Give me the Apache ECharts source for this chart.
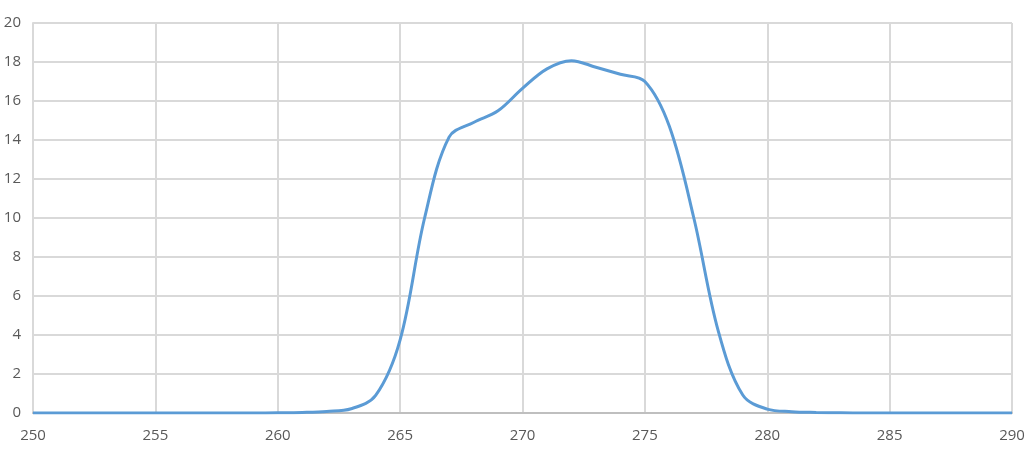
<!DOCTYPE html>
<html>
<head>
    <meta charset="utf-8">
    <title>Spectrum</title>
    <script src="https://cdn.jsdelivr.net/npm/echarts@6/dist/echarts.min.js"></script>
    <style>
        html, body { margin: 0; padding: 0; background: #fff; }
    </style>
</head>
<body>
<div id="main" style="width: 1029px; height: 450px;"></div>
<script>
    var wavelength = [250, 251, 252, 253, 254, 255, 256, 257, 258, 259,
        260, 261, 262, 263, 264, 265, 266, 267, 268, 269,
        270, 271, 272, 273, 274, 275, 276, 277, 278, 279,
        280, 281, 282, 283, 284, 285, 286, 287, 288, 289, 290];
    var intensity = [0, 0, 0, 0, 0, 0, 0, 0, 0, 0,
        0.01, 0.03, 0.08, 0.22, 0.9, 3.75, 10.0, 14.15, 14.9, 15.5,
        16.65, 17.65, 18.07, 17.73, 17.37, 17.0, 14.7, 10.0, 4.2, 0.92,
        0.2, 0.07, 0.03, 0.01, 0, 0, 0, 0, 0, 0, 0];

    var points = [];
    for (var i = 0; i < wavelength.length; i++) {
        points.push([wavelength[i], intensity[i]]);
    }

    var chart = echarts.init(document.getElementById('main'));
    var labelStyle = {color: '#595959', fontSize: 15, fontFamily: 'Open Sans'};
    var option = {
        animation: false,
        grid: {left: 33, right: 17, top: 23, bottom: 37},
        xAxis: {
            type: 'value',
            min: 250,
            max: 290,
            interval: 5,
            axisLine: {show: true, onZero: false, lineStyle: {color: '#BFBFBF', width: 2}},
            axisTick: {show: false},
            axisLabel: Object.assign({margin: 15}, labelStyle),
            splitLine: {show: true, lineStyle: {color: '#D9D9D9', width: 2}}
        },
        yAxis: {
            type: 'value',
            min: 0,
            max: 20,
            interval: 2,
            axisLine: {show: true, lineStyle: {color: '#D9D9D9', width: 2}},
            axisTick: {show: false},
            axisLabel: Object.assign({margin: 12}, labelStyle),
            splitLine: {show: true, lineStyle: {color: '#D9D9D9', width: 2}}
        },
        series: [{
            type: 'line',
            data: points,
            smooth: 0.35,
            showSymbol: false,
            lineStyle: {color: '#5B9BD5', width: 3}
        }]
    };
    chart.setOption(option);
</script>
</body>
</html>
